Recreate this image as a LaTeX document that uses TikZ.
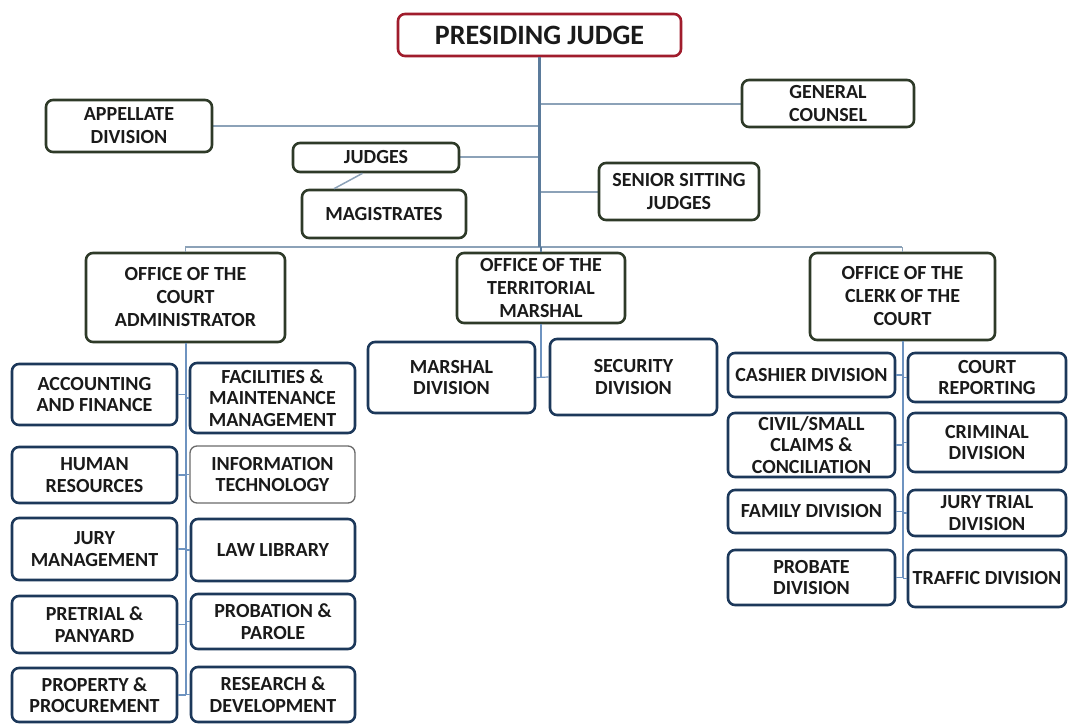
\documentclass[tikz,border=0pt]{standalone}
\usepackage{fontspec}
\setmainfont{Carlito}
\usetikzlibrary{calc}
\definecolor{gborder}{HTML}{2E3A28}
\definecolor{bborder}{HTML}{1C385A}
\definecolor{trunkcol}{HTML}{5B7B9B}
\definecolor{branchcol}{HTML}{8CA2B8}
\definecolor{subcol}{HTML}{6E93C0}
\definecolor{redborder}{HTML}{A01C2C}
\definecolor{itborder}{HTML}{6A6A6A}
\definecolor{txt}{HTML}{1A1A1A}
\newcommand{\obox}[7]{\node[#1, minimum width={(#4)-(#2)}, minimum height={(#5)-(#3)}] (#6) at ({((#2)+(#4))/2},{((#3)+(#5))/2}) {#7};}
\tikzset{
  box/.style={rounded corners=7pt, line width=2.6pt, align=center, font=\fontsize{20}{23}\selectfont\bfseries, text=txt, inner sep=0pt, fill=white},
  gbox/.style={box, draw=gborder},
  bbox/.style={box, draw=bborder, font=\fontsize{20}{21.5}\selectfont\bfseries},
  itbox/.style={bbox, draw=itborder, line width=1.3pt},
  pjbox/.style={box, draw=redborder, font=\fontsize{28}{30}\selectfont\bfseries},
  trunk/.style={draw=trunkcol, line width=2.5pt},
  branch/.style={draw=branchcol, line width=1.7pt},
  subtrunk/.style={draw=subcol, line width=2pt},
  tick/.style={draw=subcol, line width=1.2pt},
}
\begin{document}
\begin{tikzpicture}[x=1pt,y=-1pt]
\fill[white] (0,0) rectangle (1068,725);
\useasboundingbox (0,0) rectangle (1068,725);
% connectors drawn first (boxes are filled white)
\coordinate (busM) at (540,247);
\draw[branch] (212,126) -- (540,126);
\draw[branch] (540,104) -- (742,104);
\draw[branch] (459,157) -- (540,157);
\draw[branch] (540,192) -- (599,192);
\draw[branch] (185,247) -- (902,247);
% top level
\obox{pjbox}{398}{14}{681}{56}{pj}{PRESIDING JUDGE}
\obox{gbox}{742}{80}{914}{127}{gc}{GENERAL\\COUNSEL}
\obox{gbox}{46}{100}{212}{152}{ap}{APPELLATE\\DIVISION}
\obox{gbox}{293}{143}{459}{172}{ju}{JUDGES}
\obox{gbox}{302}{190}{466}{238}{ma}{MAGISTRATES}
\obox{gbox}{599}{163}{759}{220}{ss}{SENIOR SITTING\\JUDGES}
% offices
\obox{gbox}{86}{253}{285}{342}{ca}{OFFICE OF THE\\COURT\\ADMINISTRATOR}
\obox{gbox}{457}{253}{625}{323}{tm}{OFFICE OF THE\\TERRITORIAL\\MARSHAL}
\obox{gbox}{810}{253}{995}{340}{cl}{OFFICE OF THE\\CLERK OF THE\\COURT}
% court administrator units
\obox{bbox}{12}{364}{177}{425}{af}{ACCOUNTING\\AND FINANCE}
\obox{bbox}{190}{363}{355}{433}{fm}{FACILITIES \&\\MAINTENANCE\\MANAGEMENT}
\obox{bbox}{12}{447}{177}{503}{hr}{HUMAN\\RESOURCES}
\obox{itbox}{190}{446}{355}{503}{it}{INFORMATION\\TECHNOLOGY}
\obox{bbox}{12}{518}{177}{580}{jm}{JURY\\MANAGEMENT}
\obox{bbox}{191}{519}{355}{581}{ll}{LAW LIBRARY}
\obox{bbox}{12}{596}{177}{653}{pt}{PRETRIAL \&\\PANYARD}
\obox{bbox}{191}{594}{355}{649}{pb}{PROBATION \&\\PAROLE}
\obox{bbox}{12}{668}{177}{722}{pp}{PROPERTY \&\\PROCUREMENT}
\obox{bbox}{191}{667}{355}{722}{rd}{RESEARCH \&\\DEVELOPMENT}
% marshal units
\obox{bbox}{368}{342}{535}{413}{md}{MARSHAL\\DIVISION}
\obox{bbox}{550}{339}{717}{415}{sd}{SECURITY\\DIVISION}
% clerk units
\obox{bbox}{728}{353}{895}{397}{cd}{CASHIER DIVISION}
\obox{bbox}{908}{353}{1066}{402}{cr}{COURT\\REPORTING}
\obox{bbox}{728}{413}{895}{477}{cs}{CIVIL/SMALL\\CLAIMS \&\\CONCILIATION}
\obox{bbox}{908}{413}{1066}{472}{cv}{CRIMINAL\\DIVISION}
\obox{bbox}{728}{490}{895}{533}{fd}{FAMILY DIVISION}
\obox{bbox}{908}{490}{1066}{536}{jt}{JURY TRIAL\\DIVISION}
\obox{bbox}{728}{550}{895}{605}{pd}{PROBATE\\DIVISION}
\obox{bbox}{908}{550}{1066}{607}{td}{TRAFFIC DIVISION}
% connectors: top
\draw[trunk] (pj.south) -- (pj.south |- busM);
\draw[branch, line width=1.5pt] ($(ju.south west)!0.42!(ju.south east)$) -- ($(ma.north west)!0.2!(ma.north east)$);
\draw[branch] (ca.north) -- (ca.north |- busM);
\draw[branch] (cl.north) -- (cl.north |- busM);
\draw[trunk] (tm.north) -- (tm.north |- busM);
% court administrator tree
\draw[subtrunk] (ca.south) -- (ca.south |- pp.east);
\foreach \n in {af,hr,jm,pt,pp}{\draw[tick] (\n.east) -- (\n.east -| ca.south);}
\foreach \n in {fm,it,ll,pb,rd}{\draw[tick] (\n.west) -- (\n.west -| ca.south);}
% marshal tree
\draw[subtrunk] (tm.south) -- (tm.south |- md.east);
\draw[tick] (md.east) -- (sd.west);
% clerk tree
\draw[subtrunk] (cl.south) -- (cl.south |- pd.east);
\foreach \n in {cd,cs,fd,pd}{\draw[tick] (\n.east) -- (\n.east -| cl.south);}
\foreach \n in {cr,cv,jt,td}{\draw[tick] (\n.west) -- (\n.west -| cl.south);}
\end{tikzpicture}
\end{document}
